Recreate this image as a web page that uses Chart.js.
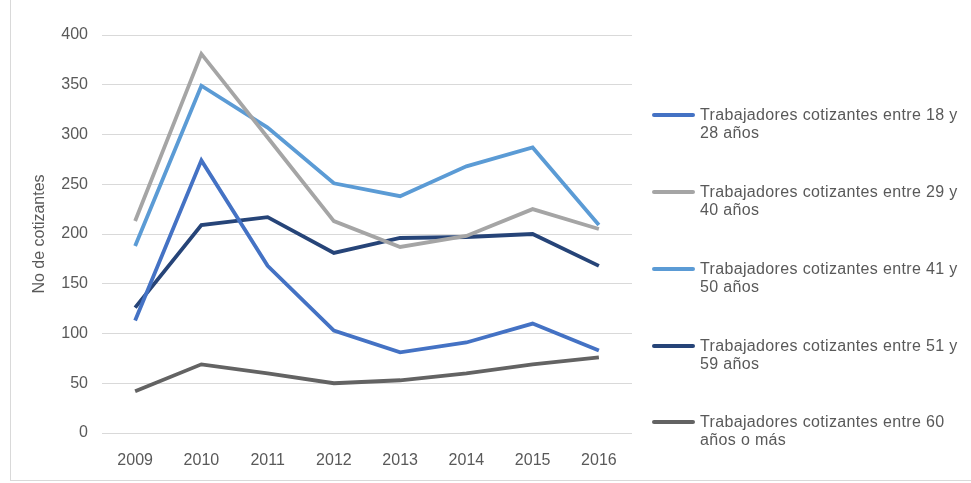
<!DOCTYPE html>
<html>
<head>
<meta charset="utf-8">
<script src="https://cdn.jsdelivr.net/npm/chart.js@4/dist/chart.umd.min.js"></script>
<style>
  body { margin: 0; background: #fff; }
  #wrap { position: relative; width: 971px; height: 483px; }
  #frame { position: absolute; left: 10px; top: 0; width: 960px; height: 480px; border-left: 1px solid #d9d9d9; border-bottom: 1px solid #d9d9d9; }
  #legend { position: absolute; left: 652px; top: 0; font-family: "Liberation Sans", Arial, sans-serif; font-size: 16px; letter-spacing: 0.35px; color: #595959; line-height: 18px; }
  .item { position: absolute; left: 0; width: 315px; }
  .swatch { position: absolute; left: 0; top: 7px; width: 43px; height: 4px; border-radius: 2px; }
  .txt { position: absolute; left: 48px; top: 0; white-space: nowrap; }
</style>
</head>
<body>
<div id="wrap">
  <div id="frame"></div>
  <canvas id="chart" width="971" height="483"></canvas>
  <div id="legend"></div>
</div>
<script>
const years = ['2009', '2010', '2011', '2012', '2013', '2014', '2015', '2016'];
const age18to28 = [113, 274, 168, 103, 81, 91, 110, 83];
const age29to40 = [213, 381, 297, 213, 187, 198, 225, 205];
const age41to50 = [188, 349, 307, 251, 238, 268, 287, 209];
const age51to59 = [126, 209, 217, 181, 196, 197, 200, 168];
const age60plus = [42, 69, 60, 50, 53, 60, 69, 76];
const seriesNames = [
  ['Trabajadores cotizantes entre 18 y', '28 años'],
  ['Trabajadores cotizantes entre 29 y', '40 años'],
  ['Trabajadores cotizantes entre 41 y', '50 años'],
  ['Trabajadores cotizantes entre 51 y', '59 años'],
  ['Trabajadores cotizantes entre 60', 'años o más']
];
const colors = ['#4472C4', '#A5A5A5', '#5B9BD5', '#264478', '#636363'];
const legendY = [106, 183, 260, 337, 413];

const allSeries = [age18to28, age29to40, age41to50, age51to59, age60plus];
const font = "'Liberation Sans', Arial, sans-serif";

const ctx = document.getElementById('chart');

new Chart(ctx, {
  type: 'line',
  data: {
    labels: years,
    datasets: allSeries.map((d, i) => ({
      label: seriesNames[i].join(' '),
      data: d,
      borderColor: colors[i],
      backgroundColor: colors[i],
      borderWidth: 3.8,
      pointRadius: 0,
      tension: 0
    }))
  },
  options: {
    responsive: false,
    animation: false,
    layout: { padding: { left: 24, right: 339, top: 35, bottom: 10 } },
    plugins: {
      legend: { display: false },
      tooltip: { enabled: false }
    },
    scales: {
      x: {
        offset: true,
        grid: { display: false },
        border: { display: false },
        ticks: { color: '#595959', font: { family: font, size: 16 }, padding: 10, maxRotation: 0 },
        afterFit: s => { s.height = 40; }
      },
      y: {
        min: 0,
        max: 400,
        ticks: { stepSize: 50, color: '#595959', font: { family: font, size: 16 }, padding: 14 },
        grid: { color: '#d9d9d9', lineWidth: 1, drawTicks: false },
        border: { display: false },
        title: {
          display: true,
          text: 'No de cotizantes',
          color: '#595959',
          font: { family: font, size: 16 },
          padding: { top: 6, bottom: 0 }
        },
        afterFit: s => { s.width = 78; }
      }
    }
  }
});

const legend = document.getElementById('legend');
seriesNames.forEach((name, i) => {
  const item = document.createElement('div');
  item.className = 'item';
  item.style.top = legendY[i] + 'px';
  item.innerHTML = '<div class="swatch" style="background:' + colors[i] + '"></div>' +
    '<div class="txt">' + name.join('<br>') + '</div>';
  legend.appendChild(item);
});
</script>
</body>
</html>
